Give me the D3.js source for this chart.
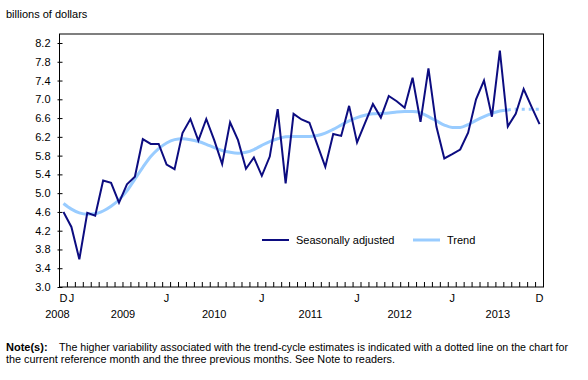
<!DOCTYPE html>
<html>
<head>
<meta charset="utf-8">
<script src="https://cdn.jsdelivr.net/npm/d3@7"></script>
<style>
  body { margin: 0; background: #fff; }
  text { font-family: Arial, "Liberation Sans", sans-serif; }
</style>
</head>
<body>
<svg id="chart"></svg>
<script>
// monthly categories, Dec 2008 to Dec 2013
const months = d3.timeMonth.range(new Date(2008, 11, 1), new Date(2014, 0, 1))
    .map(d3.timeFormat("%Y-%m"));

// billions of dollars
const seasonallyAdjusted = [
    4.60,
    4.28, 3.59, 4.58, 4.52, 5.27, 5.22, 4.80, 5.19, 5.35, 6.15, 6.05, 6.05,
    5.61, 5.51, 6.28, 6.58, 6.12, 6.58, 6.13, 5.62, 6.51, 6.13, 5.52, 5.76,
    5.37, 5.78, 6.79, 5.21, 6.69, 6.57, 6.50, 6.03, 5.56, 6.26, 6.22, 6.86,
    6.08, 6.49, 6.90, 6.61, 7.07, 6.96, 6.82, 7.46, 6.52, 7.66, 6.42, 5.74,
    5.83, 5.93, 6.29, 7.00, 7.40, 6.63, 8.04, 6.42, 6.69, 7.22, 6.84, 6.47
];

const trend = [
    4.78,
    4.66, 4.58, 4.55, 4.56, 4.62, 4.72, 4.86, 5.05, 5.30, 5.55, 5.78, 5.95,
    6.07, 6.14, 6.16, 6.14, 6.10, 6.04, 5.97, 5.91, 5.87, 5.85, 5.87, 5.93,
    6.02, 6.10, 6.16, 6.20, 6.21, 6.21, 6.21, 6.23, 6.28, 6.36, 6.45, 6.54,
    6.61, 6.66, 6.69, 6.70, 6.71, 6.73, 6.74, 6.74, 6.71, 6.63, 6.54, 6.45,
    6.40, 6.40, 6.46, 6.55, 6.63, 6.70, 6.75, 6.77, 6.79, 6.79, 6.79, 6.79
];

// last four trend months are drawn dotted
const dottedFrom = "2013-08";

const yTicks = [3.0, 3.4, 3.8, 4.2, 4.6, 5.0, 5.4, 5.8, 6.2, 6.6, 7.0, 7.4, 7.8, 8.2];

const monthLabels = [
    { month: "2008-12", label: "D" },
    { month: "2009-01", label: "J" },
    { month: "2010-01", label: "J" },
    { month: "2011-01", label: "J" },
    { month: "2012-01", label: "J" },
    { month: "2013-01", label: "J" },
    { month: "2013-12", label: "D" }
];

const yearLabels = [
    { month: "2008-12", label: "2008", dx: -6 },
    { month: "2009-07", label: "2009", dx: 4 },
    { month: "2010-07", label: "2010", dx: 0 },
    { month: "2011-07", label: "2011", dx: 1 },
    { month: "2012-07", label: "2012", dx: -5 },
    { month: "2013-07", label: "2013", dx: -2 }
];

const legendItems = [
    { name: "Seasonally adjusted", color: "#0c0c80" },
    { name: "Trend", color: "#99ccff" }
];

const noteLines = [
    "The higher variability associated with the trend-cycle estimates is indicated with a dotted line on the chart for",
    "the current reference month and the three previous months. See Note to readers."
];

const W = 588, H = 380;
const plotLeft = 59.5, plotRight = 543.5, plotTop = 34, plotBottom = 287;

const svg = d3.select("#chart")
    .attr("width", W)
    .attr("height", H);

const x = d3.scaleBand()
    .domain(months)
    .range([plotLeft, plotRight]);

const cx = m => x(m) + x.bandwidth() / 2;

const y = d3.scaleLinear()
    .domain([3.0, 8.2])
    .range([plotBottom, 43]);

// frame
svg.append("rect")
    .attr("x", plotLeft)
    .attr("y", plotTop)
    .attr("width", plotRight - plotLeft)
    .attr("height", plotBottom - plotTop)
    .attr("fill", "none")
    .attr("stroke", "#000")
    .attr("stroke-width", 1);

// y axis
const yAxis = svg.append("g")
    .attr("transform", `translate(${plotLeft},0)`)
    .call(d3.axisLeft(y).tickValues(yTicks).tickSize(3).tickPadding(6).tickFormat(d3.format(".1f")));
yAxis.select(".domain").remove();
yAxis.selectAll(".tick line").attr("x2", 3).attr("x1", -2).attr("stroke", "#000");
yAxis.selectAll("text").style("font-size", "11px").attr("fill", "#000");

// x axis ticks at month boundaries, pointing up
svg.append("g")
    .selectAll("line")
    .data(months.slice(1))
    .enter().append("line")
    .attr("x1", d => x(d))
    .attr("x2", d => x(d))
    .attr("y1", plotBottom)
    .attr("y2", plotBottom - 5)
    .attr("stroke", "#000");

svg.append("g")
    .selectAll("text")
    .data(monthLabels)
    .enter().append("text")
    .attr("x", d => cx(d.month))
    .attr("y", 302)
    .attr("text-anchor", "middle")
    .style("font-size", "11px")
    .text(d => d.label);

svg.append("g")
    .selectAll("text")
    .data(yearLabels)
    .enter().append("text")
    .attr("x", d => cx(d.month) + d.dx)
    .attr("y", 318)
    .attr("text-anchor", "middle")
    .style("font-size", "11px")
    .text(d => d.label);

// lines
const saData = months.map((m, i) => ({ m, v: seasonallyAdjusted[i] }));
const trendData = months.map((m, i) => ({ m, v: trend[i] }));
const cut = months.indexOf(dottedFrom);

const line = d3.line().x(d => cx(d.m)).y(d => y(d.v));
const smooth = d3.line().x(d => cx(d.m)).y(d => y(d.v)).curve(d3.curveMonotoneX);

svg.append("path")
    .datum(trendData.slice(0, cut + 1))
    .attr("d", smooth)
    .attr("fill", "none")
    .attr("stroke", legendItems[1].color)
    .attr("stroke-width", 3);

svg.append("path")
    .datum(trendData.slice(cut))
    .attr("d", smooth)
    .attr("fill", "none")
    .attr("stroke", legendItems[1].color)
    .attr("stroke-width", 3)
    .attr("stroke-dasharray", "3,4");

svg.append("path")
    .datum(saData)
    .attr("d", line)
    .attr("fill", "none")
    .attr("stroke", legendItems[0].color)
    .attr("stroke-width", 2)
    .attr("stroke-linejoin", "miter");

// y axis title
svg.append("text")
    .attr("x", 6)
    .attr("y", 18)
    .style("font-size", "11px")
    .text("billions of dollars");

// legend
const legend = svg.append("g")
    .selectAll("g")
    .data(legendItems)
    .enter().append("g")
    .attr("transform", (d, i) => `translate(${i === 0 ? 262 : 413},240)`);

legend.append("line")
    .attr("x1", 0).attr("x2", 27)
    .attr("stroke", d => d.color)
    .attr("stroke-width", d => d.name === "Trend" ? 3 : 2);

legend.append("text")
    .attr("x", 34)
    .attr("y", 4)
    .style("font-size", "11px")
    .text(d => d.name);

// note (reference font is set tighter, so fit each line to its width)
const noteWidths = [509, 389];
const note = svg.append("g");
note.append("text")
    .attr("x", 6)
    .attr("y", 351)
    .style("font-size", "11px")
    .style("font-weight", "bold")
    .text("Note(s):");
note.selectAll(".note-line")
    .data(noteLines)
    .enter().append("text")
    .attr("class", "note-line")
    .attr("x", (d, i) => i === 0 ? 59 : 6)
    .attr("y", (d, i) => 351 + i * 12)
    .attr("textLength", (d, i) => noteWidths[i])
    .attr("lengthAdjust", "spacingAndGlyphs")
    .style("font-size", "11px")
    .text(d => d);
</script>
</body>
</html>
